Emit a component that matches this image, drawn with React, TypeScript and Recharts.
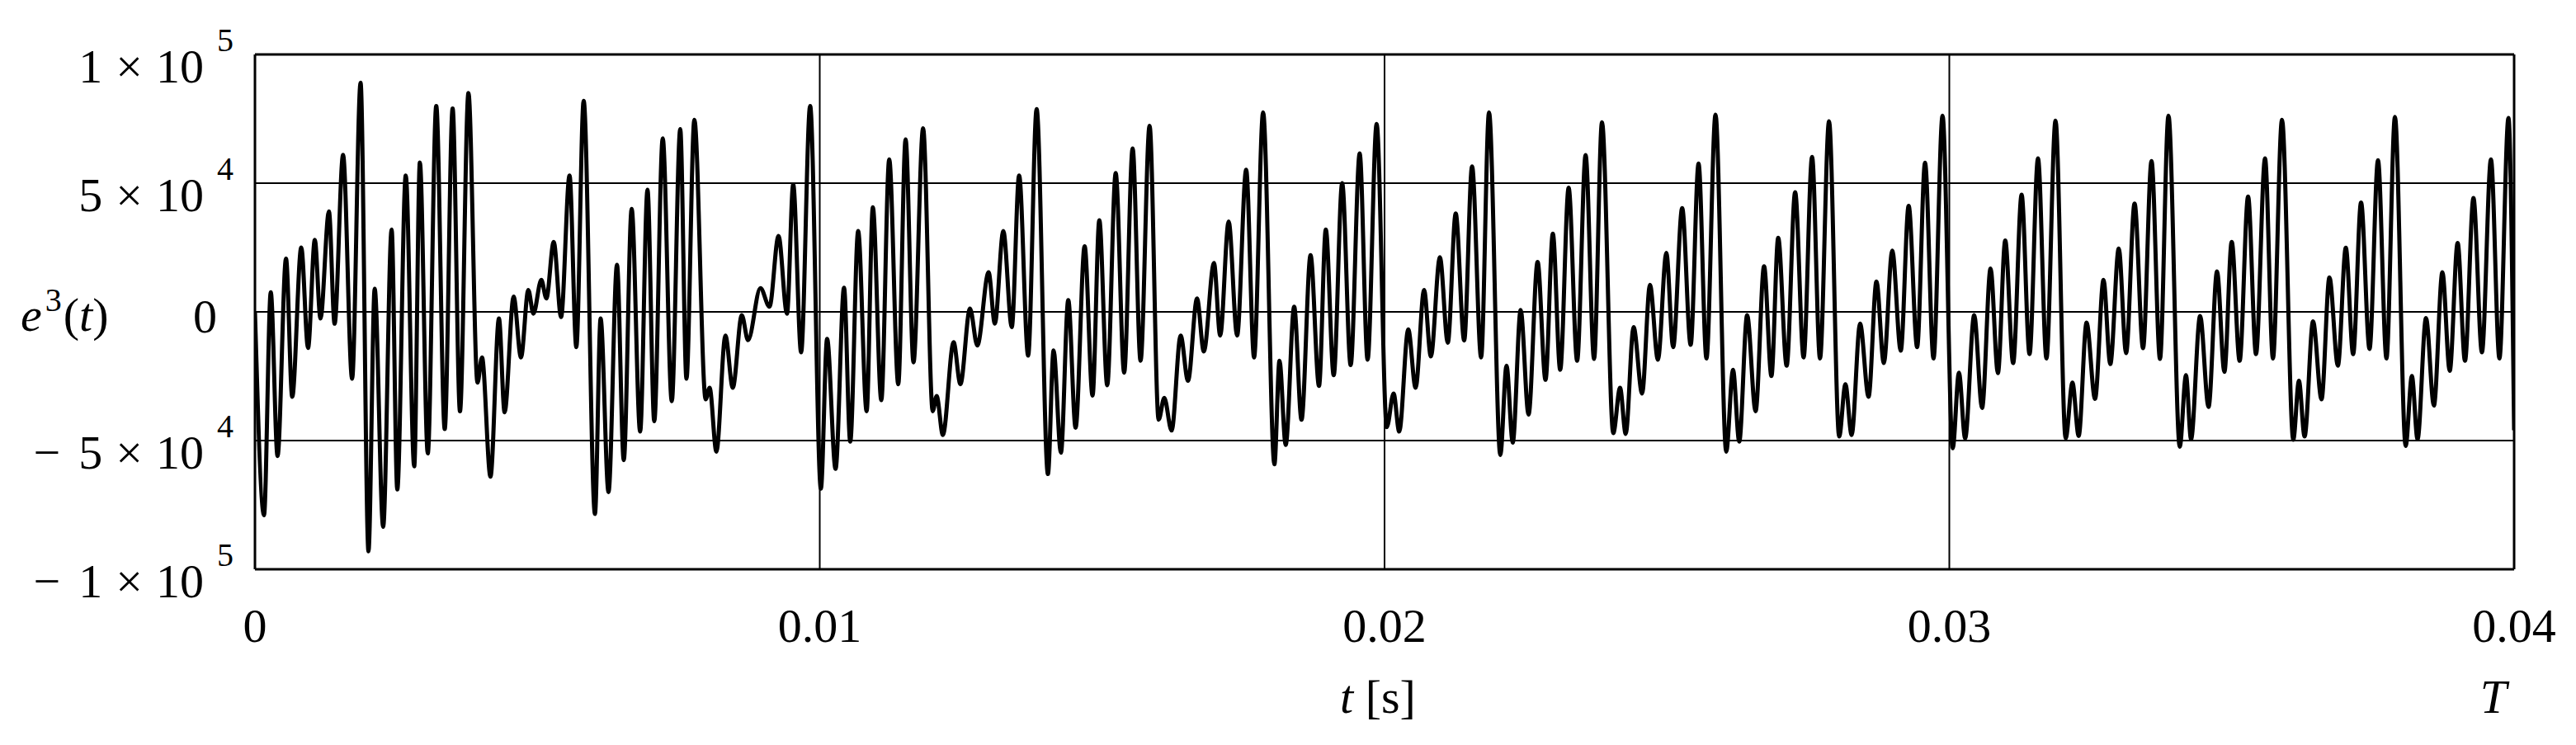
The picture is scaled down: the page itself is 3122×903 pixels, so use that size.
import React from "react";
import { LineChart, Line, XAxis, YAxis, ReferenceLine } from "recharts";

// time in milliseconds (extrema)
const TIME_MS = [
  0, 0.16, 0.28, 0.40, 0.55, 0.66, 0.82, 0.94, 1.06, 1.16, 1.31, 1.41, 1.56, 1.72, 1.87, 2.01, 2.12, 2.27, 2.42, 2.52, 2.67, 2.82, 2.92, 3.06, 3.21, 3.36, 3.50,
  3.63, 3.78, 3.94, 4.02, 4.17, 4.32, 4.42, 4.58, 4.71, 4.84, 4.93, 5.07, 5.16, 5.29, 5.42, 5.57, 5.69, 5.82, 6.02, 6.12, 6.26, 6.41, 6.53, 6.67, 6.82, 6.95, 7.07, 7.22,
  7.38, 7.53, 7.64, 7.78, 7.98, 8.05, 8.17, 8.33, 8.46, 8.62, 8.73, 8.95, 9.11, 9.27, 9.42, 9.53, 9.67, 9.83, 10.02, 10.13, 10.28, 10.43, 10.54, 10.68, 10.83,
  10.94, 11.09, 11.23, 11.39, 11.52, 11.66, 11.83, 12.0, 12.07, 12.18, 12.37, 12.49, 12.66, 12.79, 12.99, 13.10, 13.25, 13.40, 13.53, 13.69, 13.84, 14.04, 14.14, 14.27, 14.40, 14.53,
  14.69, 14.83, 14.95, 15.09, 15.24, 15.39, 15.54, 15.68, 15.84, 16.0, 16.1, 16.23, 16.39, 16.52, 16.68, 16.80, 16.98, 17.09, 17.24, 17.39, 17.55, 17.69, 17.85, 18.05, 18.14,
  18.25, 18.40, 18.53, 18.69, 18.84, 18.96, 19.10, 19.25, 19.40, 19.56, 19.70, 19.86, 20.04, 20.16, 20.26, 20.42, 20.55, 20.70, 20.82, 20.98, 21.12, 21.26, 21.41, 21.55, 21.71, 21.85,
  22.05, 22.16, 22.27, 22.41, 22.55, 22.71, 22.85, 22.98, 23.11, 23.26, 23.41, 23.56, 23.71, 23.85, 24.05, 24.17, 24.27, 24.41, 24.56, 24.70, 24.84, 24.99, 25.11, 25.27, 25.42,
  25.56, 25.70, 25.86, 26.05, 26.17, 26.28, 26.42, 26.57, 26.72, 26.85, 26.97, 27.12, 27.27, 27.42, 27.57, 27.71, 27.87, 28.05, 28.16, 28.27, 28.42, 28.57, 28.71, 28.84, 28.99, 29.14,
  29.28, 29.43, 29.57, 29.72, 29.88, 30.06, 30.17, 30.28, 30.44, 30.58, 30.73, 30.86, 30.99, 31.13, 31.28, 31.42, 31.57, 31.72, 31.88, 32.06, 32.18, 32.29, 32.43, 32.58, 32.73,
  32.85, 33.0, 33.13, 33.28, 33.43, 33.58, 33.73, 33.88, 34.08, 34.19, 34.28, 34.44, 34.59, 34.74, 34.87, 35.0, 35.14, 35.29, 35.43, 35.59, 35.73, 35.89, 36.09, 36.19, 36.29, 36.44,
  36.59, 36.73, 36.88, 37.02, 37.15, 37.29, 37.44, 37.59, 37.74, 37.89, 38.08, 38.19, 38.29, 38.44, 38.58, 38.73, 38.86, 39.0, 39.13, 39.28, 39.43, 39.59, 39.74, 39.90, 40.0,
];

// e^3(t) in units of 1e4
const VALUE_E4 = [
  0, -7.9, 0.76, -5.6, 2.07, -3.3, 2.5, -1.4, 2.8, -0.26, 3.9, -0.46, 6.1, -2.6, 8.9, -9.3, 0.9, -8.35, 3.2, -6.9, 5.3, -6.0, 5.8, -5.5, 8.0, -4.55, 7.9,
  -3.86, 8.5, -2.75, -1.77, -6.4, -0.26, -3.9, 0.59, -1.77, 0.85, -0.07, 1.24, 0.52, 2.72, -0.2, 5.3, -1.37, 8.2, -7.85, -0.26, -7.0, 1.83, -5.76, 4.0, -4.65, 4.74, -4.25, 6.74,
  -3.47, 7.1, -2.6, 7.46, -3.4, -2.95, -5.43, -0.92, -2.95, -0.13, -1.1, 0.92, 0.2, 2.95, -0.07, 4.95, -1.57, 8.0, -6.87, -1.05, -6.1, 0.94, -5.04, 3.14, -3.86,
  4.06, -3.43, 5.92, -2.81, 6.7, -1.96, 7.13, -3.86, -3.27, -4.78, -1.18, -2.81, 0.13, -1.31, 1.54, -0.46, 3.14, -0.59, 5.3, -1.7, 7.88, -6.3, -1.5, -5.47, 0.46, -4.5,
  2.55, -3.25, 3.56, -2.85, 5.39, -2.36, 6.35, -1.9, 7.23, -4.19, -3.34, -4.61, -0.92, -2.68, 0.52, -1.54, 1.9, -0.92, 3.51, -0.92, 5.52, -1.77, 7.75, -5.92, -1.9,
  -5.17, 0.2, -4.19, 2.2, -2.88, 3.2, -2.46, 5.0, -2.07, 6.15, -1.86, 7.3, -4.48, -3.17, -4.65, -0.68, -2.95, 0.85, -1.73, 2.12, -1.2, 3.82, -1.11, 5.65, -1.77, 7.75,
  -5.56, -2.09, -5.08, 0.07, -3.99, 1.94, -2.64, 3.04, -2.25, 4.82, -1.9, 6.09, -1.83, 7.36, -4.71, -2.95, -4.74, -0.59, -3.17, 1.05, -1.86, 2.29, -1.37, 4.03, -1.28,
  5.76, -1.81, 7.66, -5.43, -2.25, -5.04, -0.13, -3.86, 1.77, -2.49, 2.88, -2.09, 4.65, -1.77, 6.02, -1.81, 7.4, -4.84, -2.81, -4.78, -0.46, -3.3, 1.18, -1.99, 2.38, -1.51,
  4.12, -1.37, 5.79, -1.81, 7.62, -5.3, -2.36, -4.91, -0.13, -3.73, 1.68, -2.38, 2.77, -1.99, 4.55, -1.64, 5.96, -1.81, 7.43, -4.91, -2.75, -4.82, -0.42, -3.38, 1.24,
  -2.03, 2.46, -1.6, 4.21, -1.41, 5.86, -1.83, 7.62, -5.24, -2.46, -4.95, -0.16, -3.69, 1.57, -2.33, 2.72, -1.9, 4.48, -1.64, 5.96, -1.81, 7.46, -4.97, -2.68, -4.84, -0.37,
  -3.4, 1.34, -2.09, 2.49, -1.64, 4.25, -1.44, 5.89, -1.81, 7.57, -5.21, -2.49, -4.95, -0.24, -3.64, 1.54, -2.29, 2.68, -1.9, 4.42, -1.57, 5.92, -1.81, 7.53, -4.6,
];

const X_TICKS = [0, 0.01, 0.02, 0.03, 0.04];
const X_TICK_LABELS = ["0", "0.01", "0.02", "0.03", "0.04"];

const Y_TICKS = [-100000, -50000, 0, 50000, 100000];
const Y_TICK_SIGN = ["\u2212", "\u2212", "", "", ""];
const Y_TICK_MANTISSA = ["1", "5", "0", "5", "1"];
const Y_TICK_EXPONENT = ["5", "4", "", "4", "5"];

const GRID_X = [0.01, 0.02, 0.03];
const GRID_Y = [-50000, 0, 50000];

const data = TIME_MS.map((ms, i) => ({ t: ms / 1000, v: VALUE_E4[i] * 10000 }));

const FONT = "'Liberation Serif', 'DejaVu Serif', serif";
const FS = 58;
const PLOT_BOTTOM = 690;

const XTick = (props: any) => {
  const idx = X_TICKS.indexOf(props.payload.value);
  return (
    <text x={props.x} y={PLOT_BOTTOM + 88} textAnchor="middle" fontFamily={FONT} fontSize={FS} fill="#000">
      {X_TICK_LABELS[idx]}
    </text>
  );
};

const YTick = (props: any) => {
  const idx = Y_TICKS.indexOf(props.payload.value);
  const sign = Y_TICK_SIGN[idx];
  const mant = Y_TICK_MANTISSA[idx];
  const exp = Y_TICK_EXPONENT[idx];
  if (!exp) {
    return (
      <text x={263} y={props.y + 25} textAnchor="end" fontFamily={FONT} fontSize={FS} fill="#000">
        {mant}
      </text>
    );
  }
  return (
    <text x={283} y={props.y + 34} textAnchor="end" fontFamily={FONT} fontSize={FS} fill="#000">
      {sign ? <tspan>{sign}</tspan> : null}
      <tspan dx={sign ? 22 : 0}>{mant}</tspan>
      <tspan dx={16}>×</tspan>
      <tspan dx={16}>10</tspan>
      <tspan dx={16} dy={-38} fontSize={40}>{exp}</tspan>
    </text>
  );
};

export default function App() {
  return (
    <div style={{ position: "absolute", left: 0, top: 0, width: 3120, height: 900, background: "#fff" }}>
      <LineChart width={3120} height={900} data={data} margin={{ top: 66, right: 73, bottom: 60, left: 0 }}>
        <XAxis
          dataKey="t"
          type="number"
          domain={[0, 0.04]}
          ticks={X_TICKS}
          interval={0}
          tick={<XTick />}
          tickLine={false}
          axisLine={false}
          height={150}
          allowDataOverflow
        />
        <YAxis
          type="number"
          domain={[-100000, 100000]}
          ticks={Y_TICKS}
          interval={0}
          tick={<YTick />}
          tickLine={false}
          axisLine={false}
          width={309}
          allowDataOverflow
        />
        {GRID_Y.map((y) => (
          <ReferenceLine key={"gy" + y} y={y} stroke="#000" strokeWidth={2} />
        ))}
        {GRID_X.map((x) => (
          <ReferenceLine key={"gx" + x} x={x} stroke="#000" strokeWidth={2} />
        ))}
        <ReferenceLine x={0} stroke="#000" strokeWidth={3} />
        <ReferenceLine x={0.04} stroke="#000" strokeWidth={3} />
        <ReferenceLine y={100000} stroke="#000" strokeWidth={3} />
        <ReferenceLine y={-100000} stroke="#000" strokeWidth={3} />
        <Line
          type="monotone"
          dataKey="v"
          stroke="#000"
          strokeWidth={5}
          strokeLinejoin="round"
          dot={false}
          activeDot={false}
          isAnimationActive={false}
        />
      </LineChart>
      <svg width={3120} height={900} style={{ position: "absolute", left: 0, top: 0, pointerEvents: "none" }}>
        <text x={1670} y={864} textAnchor="middle" fontFamily={FONT} fontSize={FS} fill="#000">
          <tspan fontStyle="italic">t</tspan>
          <tspan> [s]</tspan>
        </text>
        <text x={3022} y={864} textAnchor="middle" fontFamily={FONT} fontSize={FS} fontStyle="italic" fill="#000">
          T
        </text>
        <text x={25} y={401} fontFamily={FONT} fontSize={FS} fill="#000">
          <tspan fontStyle="italic">e</tspan>
          <tspan dx={4} dy={-24} fontSize={40}>3</tspan>
          <tspan dx={2} dy={24}>(</tspan>
          <tspan fontStyle="italic">t</tspan>
          <tspan>)</tspan>
        </text>
      </svg>
    </div>
  );
}
